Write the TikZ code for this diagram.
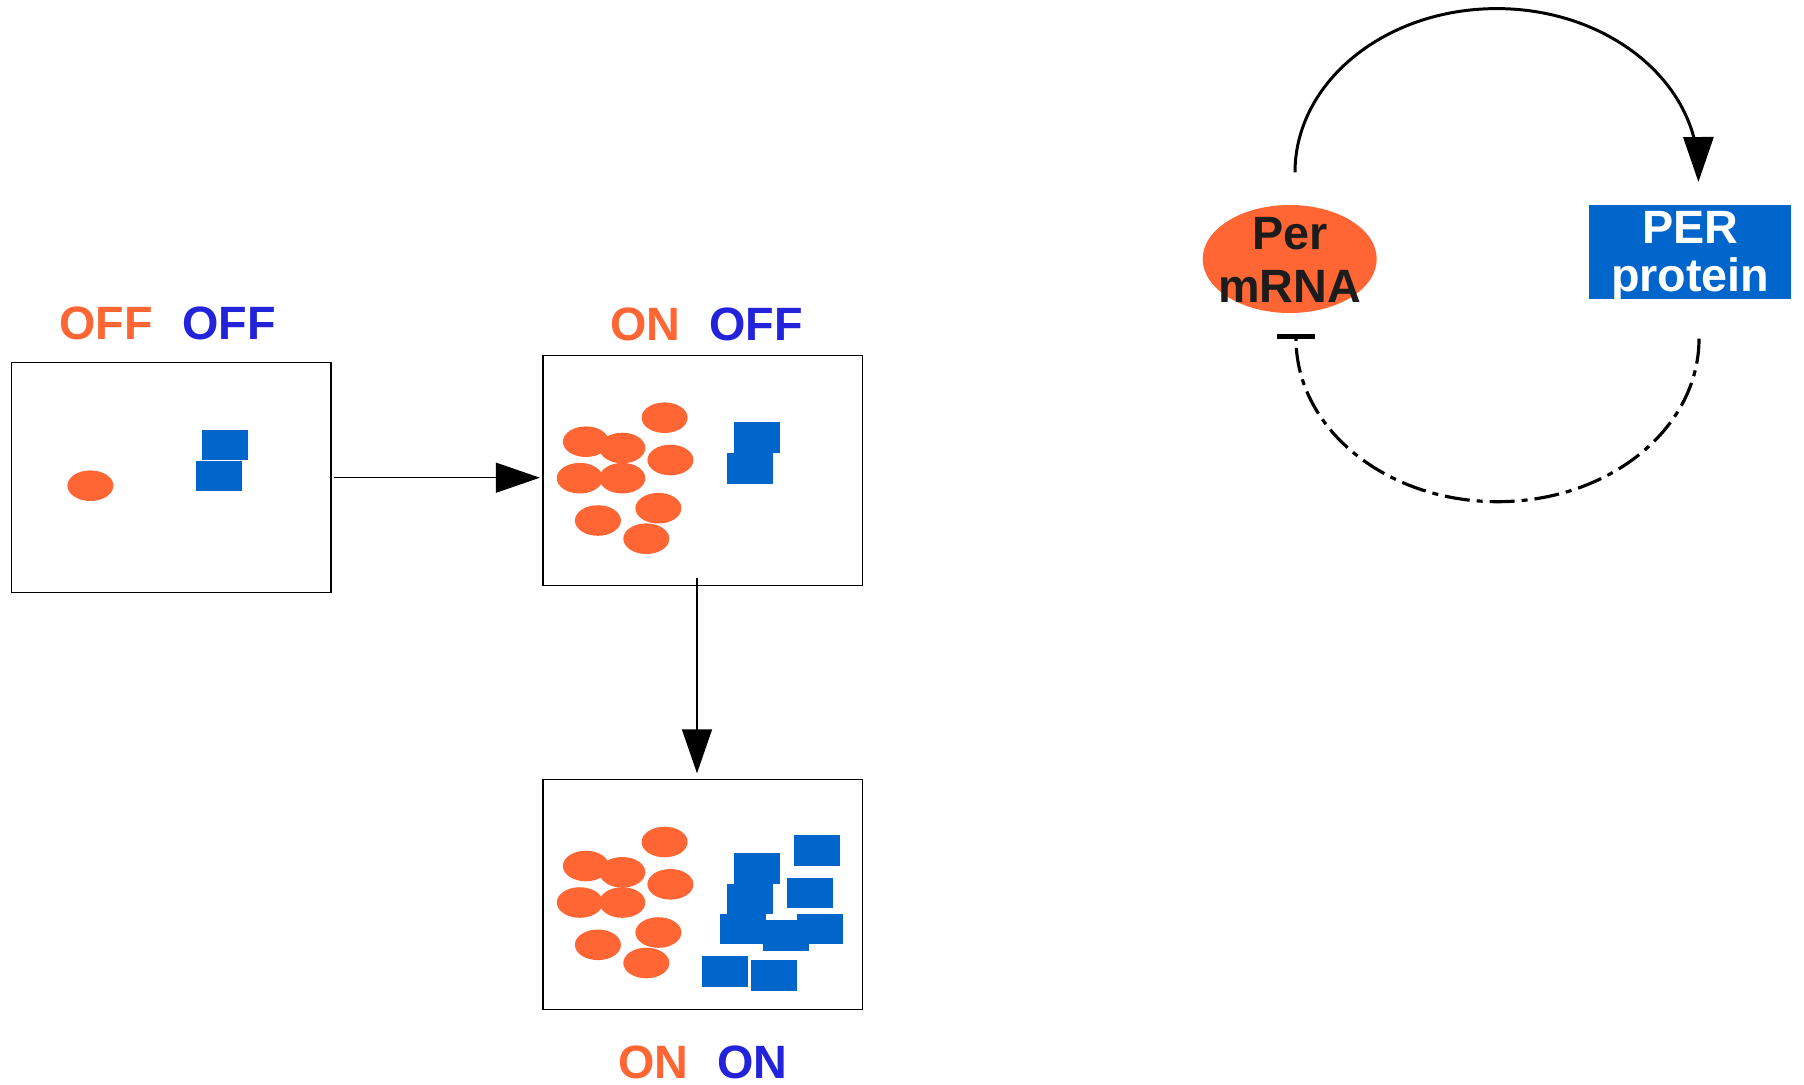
\documentclass[tikz,border=0pt]{standalone}
\usepackage{fontspec}
\setmainfont{Liberation Sans}
\usetikzlibrary{arrows.meta}
\usetikzlibrary{shapes.geometric}

\definecolor{rnaorange}{RGB}{255,102,51}
\definecolor{protblue}{RGB}{0,102,204}
\definecolor{onblue}{RGB}{35,35,220}
\definecolor{txtdark}{RGB}{28,28,28}

\newcommand{\lbl}{\fontsize{13.3}{15.2}\selectfont\bfseries}

\begin{document}
\begin{tikzpicture}[
  cell/.style={draw=black, line width=0.4pt, minimum width=3.195cm, minimum height=2.3cm, inner sep=0pt},
  bigtip/.style={line width=0.4pt, -{Triangle[length=0.44cm,width=0.30cm]}},
  molrna/.style={fill=rnaorange},
  molprot/.style={fill=protblue}]
  \useasboundingbox (0,0) rectangle (18.04,10.84);

  % the three cells
  \node[cell] (off) at (1.712,6.063) {};
  \node[cell] (rna) at (7.026,6.138) {};
  \node[cell] (both) at (7.026,1.895) {};

  \node[anchor=base, text=rnaorange, font=\lbl] (offa) at (1.06,7.45) {OFF};
  \node[anchor=base, text=onblue, font=\lbl] (offb) at (2.29,7.45) {OFF};
  \node[anchor=base, text=rnaorange, font=\lbl] (rnaa) at (6.455,7.44) {ON};
  \node[anchor=base, text=onblue, font=\lbl] (rnab) at (7.56,7.44) {OFF};
  \node[anchor=base, text=rnaorange, font=\lbl] (botha) at (6.535,0.06) {ON};
  \node[anchor=base, text=onblue, font=\lbl] (bothb) at (7.525,0.06) {ON};

  % molecules
  \fill[molrna] ([shift={(-0.808,-0.08)}]off.center) ellipse [x radius=0.23, y radius=0.153];
  \foreach \cell in {off,rna}
    \foreach \dx/\dy in {0.31/0.175, 0.245/-0.135}
      \fill[molprot] ([shift={(\dx,\dy)}]\cell.center) rectangle ++(0.46,0.305);
  \foreach \cell in {rna,both}
    \foreach \dx/\dy in {-0.38/0.525, -1.167/0.285, -0.803/0.222, -0.322/0.102, -1.228/-0.08,
                         -0.803/-0.08, -0.442/-0.38, -1.047/-0.503, -0.563/-0.685}
      \fill[molrna] ([shift={(\dx,\dy)}]\cell.center) ellipse [x radius=0.23, y radius=0.153];
  \foreach \dx/\dy in {0.915/0.288, 0.312/0.108, 0.845/-0.138, 0.242/-0.198, 0.178/-0.498,
                       0.602/-0.562, 0.945/-0.498, -0.005/-0.922, 0.485/-0.962}
    \fill[molprot] ([shift={(\dx,\dy)}]both.center) rectangle ++(0.46,0.305);

  \draw[bigtip] ([xshift=0.026cm]off.east) -- ([xshift=-0.023cm]off.east -| rna.west);
  \draw[bigtip] ([shift={(-0.056,0.075)}]rna.south) -- ([shift={(-0.056,0.055)}]both.north);

  % feedback loop
  \node[ellipse, fill=rnaorange, minimum width=1.74cm, minimum height=1.08cm, inner sep=0pt] (mrna) at (12.897,8.25) {};
  \node[align=center, text=txtdark, font=\lbl] (mrnatxt) at (12.897,8.24) {Per\\mRNA};
  \node[fill=protblue, minimum width=2.017cm, minimum height=0.94cm, inner sep=0pt] (prot) at (16.899,8.32) {};
  \node[align=center, text=white, font=\fontsize{13.3}{13.8}\selectfont\bfseries] (prottxt) at (16.903,8.276) {PER\\protein};

  \draw[line width=0.85pt, -{Triangle[length=0.45cm,width=0.30cm]}] ([shift={(0.053,0.32)}]mrna.north)
    arc[start angle=180, end angle=0, x radius=2.017cm, y radius=1.637cm] -- ([shift={(0.085,0.223)}]prot.north);
  \draw[line width=0.9pt, dash pattern=on 0.25cm off 0.07cm on 0.06cm off 0.07cm,
        -{Bar[width=0.38cm,line width=1.6pt]}] ([shift={(0.091,-0.39)}]prot.south)
    arc[start angle=0, end angle=-180, x radius=2.015cm, y radius=1.63cm] -- ([shift={(0.063,-0.20)}]mrna.south);
\end{tikzpicture}
\end{document}
